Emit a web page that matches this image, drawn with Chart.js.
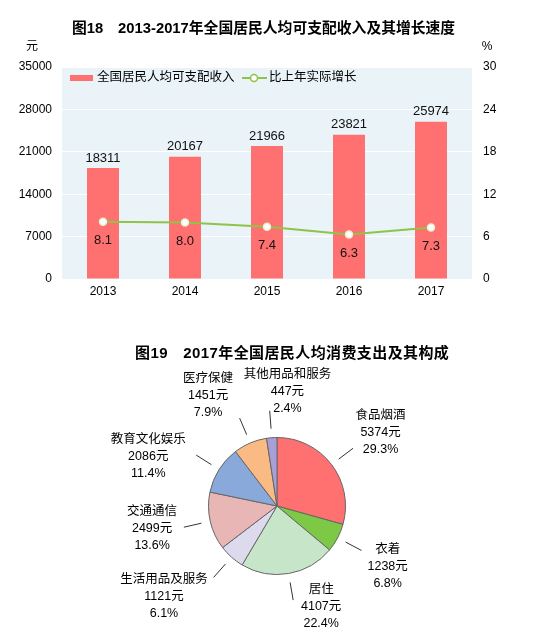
<!DOCTYPE html>
<html>
<head>
<meta charset="utf-8">
<script src="https://cdn.jsdelivr.net/npm/chart.js@4.4.1/dist/chart.umd.min.js"></script>
<style>
  body { margin: 0; background: #fff; width: 552px; height: 640px; position: relative; overflow: hidden;
         font-family: "Liberation Sans", "Noto Sans CJK SC", sans-serif; }
  .title { position: absolute; font-weight: bold; font-size: 15px; line-height: 20px; color: #000; white-space: pre; }
  #c1 { position: absolute; left: 0; top: 0; }
  #c2 { position: absolute; left: 0; top: 330px; }
</style>
</head>
<body>
<canvas id="c1" width="552" height="310"></canvas>
<canvas id="c2" width="552" height="310"></canvas>
<div class="title" style="left:72px; top:18px; font-size:14.8px;">图18　2013-2017年全国居民人均可支配收入及其增长速度</div>
<div class="title" style="left:135px; top:343px; letter-spacing:0.4px;">图19　2017年全国居民人均消费支出及其构成</div>
<script>
const FONT = '"Liberation Sans", "Noto Sans CJK SC", sans-serif'

// figure 18
const years = ['2013', '2014', '2015', '2016', '2017']
const income = [18311, 20167, 21966, 23821, 25974]
const growth = [8.1, 8.0, 7.4, 6.3, 7.3]
const incomeLabel = '全国居民人均可支配收入'
const growthLabel = '比上年实际增长'

// figure 19
const items = ['食品烟酒', '衣着', '居住', '生活用品及服务', '交通通信', '教育文化娱乐', '医疗保健', '其他用品和服务']
const spend = [5374, 1238, 4107, 1121, 2499, 2086, 1451, 447]
const shares = [29.3, 6.8, 22.4, 6.1, 13.6, 11.4, 7.9, 2.4]

const pieColors = ['#ff7070', '#7dc844', '#c7e5c9', '#dddaee', '#e7b6b5', '#88a9d9', '#f9ba84', '#a99fd6']
// small hand nudges so labels sit like the original
const labelNudge = [[4, 2], [0, 2], [23, -23], [-30, -3], [-3, -5], [-23, 17], [-20, 5], [20, 10]]

const RED = '#ff7171'
const GREEN = '#8dc449'

const plotBg = {
    id: 'plotBg',
    beforeDraw(chart) {
        const {ctx, chartArea: a} = chart
        ctx.save()
        ctx.fillStyle = '#eaf3f7'
        ctx.fillRect(a.left, a.top, a.right - a.left, a.bottom - a.top)
        ctx.restore()
    }
}

const barLabels = {
    id: 'barLabels',
    afterDatasetsDraw(chart) {
        const ctx = chart.ctx
        ctx.save()
        ctx.font = '13px ' + FONT
        ctx.fillStyle = '#111'
        ctx.textAlign = 'center'
        ctx.textBaseline = 'middle'
        chart.getDatasetMeta(0).data.forEach((bar, i) => {
            ctx.fillText(income[i], bar.x, bar.y - 10)
        })
        chart.getDatasetMeta(1).data.forEach((pt, i) => {
            ctx.fillText(growth[i].toFixed(1), pt.x, pt.y + 19)
        })
        ctx.restore()
    }
}

const legendAndUnits = {
    id: 'legendAndUnits',
    afterDraw(chart) {
        const {ctx, chartArea: a} = chart
        ctx.save()
        ctx.font = '12px ' + FONT
        ctx.fillStyle = '#000'
        ctx.textAlign = 'center'
        ctx.textBaseline = 'middle'
        ctx.fillText('元', 32, 47)
        ctx.fillText('%', 487, 47)

        const ly = a.top + 11
        ctx.fillStyle = RED
        ctx.fillRect(a.left + 8, ly - 3, 23, 6)
        ctx.font = '12.5px ' + FONT
        ctx.fillStyle = '#000'
        ctx.textAlign = 'left'
        ctx.fillText(incomeLabel, a.left + 35, ly)

        ctx.strokeStyle = GREEN
        ctx.lineWidth = 2
        ctx.beginPath()
        ctx.moveTo(a.left + 180, ly)
        ctx.lineTo(a.left + 205, ly)
        ctx.stroke()
        ctx.beginPath()
        ctx.arc(a.left + 192, ly, 3.5, 0, Math.PI * 2)
        ctx.fillStyle = '#fff'
        ctx.fill()
        ctx.lineWidth = 1.5
        ctx.stroke()
        ctx.fillStyle = '#000'
        ctx.fillText(growthLabel, a.left + 207, ly)
        ctx.restore()
    }
}

new Chart(document.getElementById('c1'), {
    type: 'bar',
    data: {
        labels: years,
        datasets: [{
            label: incomeLabel,
            data: income,
            backgroundColor: RED,
            barPercentage: 0.39,
            categoryPercentage: 1,
            yAxisID: 'y',
            order: 1
        },
        {
            type: 'line',
            label: growthLabel,
            data: growth,
            borderColor: GREEN,
            borderWidth: 2,
            pointRadius: 3.5,
            pointBackgroundColor: '#fff',
            pointBorderColor: '#e6f0d0',
            pointBorderWidth: 1.5,
            yAxisID: 'y1',
            order: 0
        }]
    },
    options: {
        responsive: false,
        animation: false,
        layout: { padding: { top: 67, left: 0, right: 0, bottom: 0 } },
        plugins: { legend: { display: false }, tooltip: { enabled: false } },
        scales: {
            x: {
                grid: { display: false, drawTicks: false },
                border: { display: false },
                ticks: { color: '#000', font: { size: 12, family: FONT }, padding: 5 },
                afterFit: s => { s.height = 31 }
            },
            y: {
                position: 'left',
                min: 0,
                max: 35000,
                ticks: { stepSize: 7000, color: '#000', font: { size: 12, family: FONT }, padding: 10, callback: v => String(v) },
                grid: { color: '#ffffff', lineWidth: 1, drawTicks: false },
                border: { display: false },
                afterFit: s => { s.width = 62 }
            },
            y1: {
                position: 'right',
                min: 0,
                max: 30,
                ticks: { stepSize: 6, color: '#000', font: { size: 12, family: FONT }, padding: 11, callback: v => String(v) },
                grid: { display: false, drawTicks: false },
                border: { display: false },
                afterFit: s => { s.width = 80 }
            }
        }
    },
    plugins: [plotBg, barLabels, legendAndUnits]
})

const pieLabels = {
    id: 'pieLabels',
    afterDatasetsDraw(chart) {
        const ctx = chart.ctx
        ctx.save()
        ctx.font = '12.5px ' + FONT
        ctx.fillStyle = '#000'
        ctx.strokeStyle = '#333'
        ctx.lineWidth = 1
        ctx.textAlign = 'center'
        ctx.textBaseline = 'middle'
        chart.getDatasetMeta(0).data.forEach((arc, i) => {
            const {x, y, startAngle, endAngle, outerRadius: r} = arc.getProps(['x', 'y', 'startAngle', 'endAngle', 'outerRadius'], true)
            const mid = (startAngle + endAngle) / 2
            const c = Math.cos(mid), s = Math.sin(mid)
            ctx.beginPath()
            ctx.moveTo(x + (r + 9) * c, y + (r + 9) * s)
            ctx.lineTo(x + (r + 27) * c, y + (r + 27) * s)
            ctx.stroke()
            const tx = x + 125 * c + labelNudge[i][0]
            const ty = y + 125 * s + labelNudge[i][1]
            ctx.fillText(items[i], tx, ty - 17)
            ctx.fillText(spend[i] + '元', tx, ty)
            ctx.fillText(shares[i].toFixed(1) + '%', tx, ty + 17)
        })
        ctx.restore()
    }
}

new Chart(document.getElementById('c2'), {
    type: 'pie',
    data: {
        labels: items,
        datasets: [{
            data: spend,
            backgroundColor: pieColors,
            borderColor: '#666',
            borderWidth: 1
        }]
    },
    options: {
        responsive: false,
        animation: false,
        layout: { padding: { left: 208, right: 206, top: 107, bottom: 65 } },
        plugins: { legend: { display: false }, tooltip: { enabled: false } }
    },
    plugins: [pieLabels]
})
</script>
</body>
</html>
